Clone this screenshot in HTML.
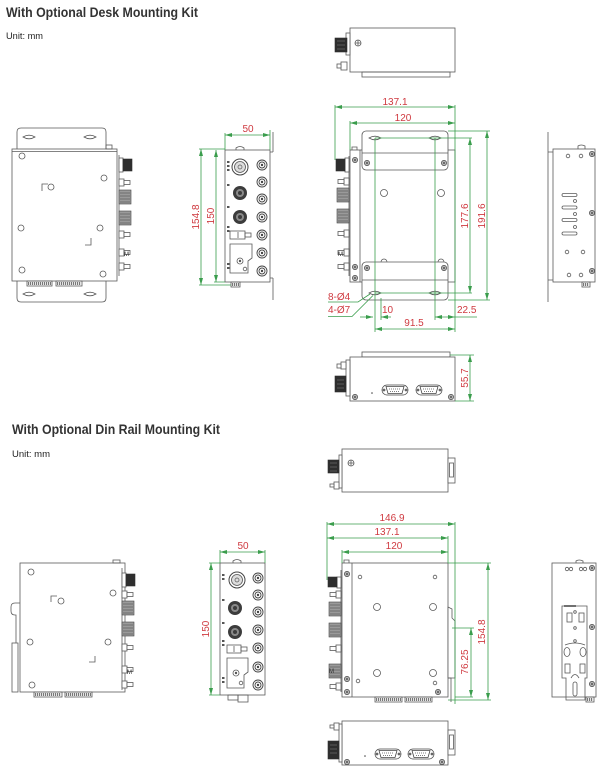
<!DOCTYPE html>
<html><head><meta charset="utf-8">
<style>
html,body{margin:0;padding:0;background:#fff;}
svg{display:block;}
.d{stroke:#5a5a5a;fill:none;stroke-width:0.8}
.w{stroke:#5a5a5a;fill:#fff;stroke-width:0.8}
.k{fill:#2e2e2e;stroke:#2e2e2e;stroke-width:0.6}
.h{fill:#9a9a9a;stroke:#444;stroke-width:0.6}
.s{fill:#b5b5b5;stroke:#444;stroke-width:0.7}
.g{stroke:#3a9d4c;stroke-width:0.8;fill:none}
.gm{stroke:#3a9d4c;stroke-width:0.8;fill:none;marker-start:url(#a);marker-end:url(#a)}
.t{fill:#cf3a40;font-size:10px;font-family:"Liberation Sans",Arial,sans-serif}
.st{stroke:#777;stroke-width:3;stroke-dasharray:1.2 0.8;fill:none}
</style></head><body>
<svg width="610" height="778" viewBox="0 0 610 778" xmlns="http://www.w3.org/2000/svg" font-family="Liberation Sans, Arial, sans-serif">
<defs>
<marker id="a" viewBox="0 0 7 4" refX="7" refY="2" markerWidth="7" markerHeight="4" orient="auto-start-reverse" markerUnits="userSpaceOnUse">
<path d="M0,0 L7,2 L0,4 z" fill="#3a9d4c"/>
</marker>
<path id="sl" d="M-6,0q6-3.6 12,0q-6,3.6-12,0z" fill="none" stroke="#5a5a5a" stroke-width="0.8"/>
<g id="rc"><circle r="5" fill="#fff" stroke="#444" stroke-width="0.9"/><circle r="3" fill="none" stroke="#444" stroke-width="0.9"/><circle r="1.2" fill="#444"/></g>
<g id="dk"><circle r="7" fill="#3c3c3c"/><circle r="4" fill="#8a8a8a"/><circle r="2" fill="#3c3c3c"/></g>
<g id="bg"><circle r="8" fill="#fff" stroke="#444" stroke-width="1"/><circle r="5.5" fill="#ddd" stroke="#555" stroke-width="0.8"/><circle r="2" fill="none" stroke="#555" stroke-width="0.7"/></g>
<g id="sc"><circle r="2.6" fill="#b5b5b5" stroke="#444" stroke-width="0.7"/><circle r="1" fill="#555"/></g>
<g id="db"><rect x="-13" y="-5" width="26" height="10" rx="5" fill="#fff" stroke="#444" stroke-width="0.7"/><path d="M-9,-3.5h18l-2,7h-14z" fill="#fff" stroke="#444" stroke-width="0.8"/><circle cx="-11" cy="0" r="1.4" fill="#666"/><circle cx="11" cy="0" r="1.4" fill="#666"/><path d="M-6,-1h12M-5,1.5h10" stroke="#555" stroke-width="0.8" stroke-dasharray="1 1"/></g>
<g id="c2"><rect x="0" y="0" width="5" height="7" class="w"/><rect x="5" y="1.5" width="6" height="4" class="w"/></g>
<g id="c3"><rect x="0" y="0" width="12" height="14" class="h"/><path d="M1,3h10M1,6h10M1,9h10M1,12h10" stroke="#444" stroke-width="0.6"/></g>
</defs>

<!-- ============ TOP SECTION ============ -->
<text x="6" y="17" font-size="14" font-weight="bold" fill="#333" textLength="192" lengthAdjust="spacingAndGlyphs">With Optional Desk Mounting Kit</text>
<text x="6" y="39" font-size="9" fill="#222" textLength="37" lengthAdjust="spacingAndGlyphs">Unit: mm</text>

<!-- A: left side view (desk) -->
<path class="d" d="M17,149V132q0-4 4-4h81q4,0 4,4v17M17,281v17q0,4 4,4h81q4,0 4-4v-17"/>
<use href="#sl" x="29" y="137"/><use href="#sl" x="90" y="137"/>
<use href="#sl" x="29" y="294"/><use href="#sl" x="90" y="294"/>
<rect class="w" x="12" y="149" width="105" height="132"/>
<line class="d" x1="12" y1="151.5" x2="117" y2="151.5"/>
<rect class="d" x="106" y="145" width="6" height="4"/>
<g class="d">
<circle cx="22" cy="156" r="3"/><circle cx="104" cy="178" r="3"/><circle cx="51" cy="187" r="3"/>
<circle cx="21" cy="228" r="3"/><circle cx="100" cy="228" r="3"/><circle cx="22" cy="270" r="3"/><circle cx="103" cy="274" r="3"/>
<path d="M42,191V184h6M85,245h6v-7"/>
<line x1="119" y1="155" x2="119" y2="276"/>
</g>
<rect class="w" x="119" y="158" width="4" height="14"/><rect class="k" x="123" y="159" width="9" height="12"/>
<use href="#c2" x="119" y="179"/>
<use href="#c3" x="119" y="190"/>
<use href="#c3" x="119" y="211"/>
<use href="#c2" x="119" y="231"/>
<use href="#c2" x="119" y="249"/><text x="124" y="256" font-size="6" fill="#333">M</text>
<use href="#c2" x="119" y="263"/>
<rect class="d" x="27" y="281" width="25" height="5"/><line class="st" x1="28" y1="283.5" x2="51" y2="283.5"/>
<rect class="d" x="56" y="281" width="26" height="5"/><line class="st" x1="57" y1="283.5" x2="81" y2="283.5"/>

<!-- B: front view (desk) -->
<path class="d" d="M273,132v20M273,278v22M270,152h3M270,278h3"/>
<rect class="w" x="225" y="150" width="45" height="132"/>
<path class="d" d="M236,150v-2q4-3 8,0v2"/>
<rect class="d" x="231" y="282" width="9" height="5"/><line class="st" x1="232" y1="284.5" x2="239" y2="284.5"/>
<use href="#bg" x="240" y="167"/>
<use href="#dk" x="240" y="193"/>
<use href="#dk" x="240" y="217"/>
<use href="#rc" x="262" y="165"/><use href="#rc" x="262" y="182"/><use href="#rc" x="262" y="199"/>
<use href="#rc" x="262" y="217"/><use href="#rc" x="262" y="235"/><use href="#rc" x="262" y="253"/><use href="#rc" x="262" y="271"/>
<g fill="#555"><rect x="227" y="161" width="2.5" height="2"/><rect x="227" y="165" width="2.5" height="2"/><rect x="227" y="169" width="2.5" height="2"/>
<rect x="227" y="184" width="2.5" height="2"/><rect x="227" y="206" width="2.5" height="2"/><rect x="227" y="226" width="2.5" height="2"/><rect x="227" y="230" width="2.5" height="2"/><rect x="227" y="263" width="2.5" height="2"/><rect x="227" y="267" width="2.5" height="2"/></g>
<rect class="d" x="230" y="231" width="15" height="8"/><rect class="d" x="245" y="233" width="6" height="4"/><line class="d" x1="238" y1="232" x2="238" y2="238"/>
<path class="d" d="M230,244h22v14l-4,3v12h-18z"/>
<circle class="d" cx="240" cy="261" r="3"/><circle cx="240" cy="261" r="1.2" fill="#555"/><circle class="d" cx="245" cy="269" r="1.8"/>
<line class="gm" x1="225" y1="135" x2="270" y2="135"/>
<path class="g" d="M225,133v17M270,130v20M199,149h26M199,285h32M214,282h11"/>
<text class="t" x="248" y="132" text-anchor="middle">50</text>
<line class="gm" x1="201" y1="149" x2="201" y2="285"/>
<line class="gm" x1="216" y1="150" x2="216" y2="282"/>
<text class="t" text-anchor="middle" transform="translate(199,217) rotate(-90)">154.8</text>
<text class="t" text-anchor="middle" transform="translate(214,216) rotate(-90)">150</text>

<!-- C: top view (desk) -->
<rect class="w" x="350" y="28" width="105" height="44"/>
<rect class="d" x="362" y="72" width="88" height="5"/>
<rect class="w" x="346" y="33" width="4" height="22"/>
<rect class="k" x="335" y="38" width="12" height="14"/>
<path d="M337,41h8M337,45h8M337,49h8" stroke="#888" stroke-width="0.6"/>
<rect class="w" x="341" y="62" width="6" height="8"/><rect class="w" x="337" y="64" width="4" height="4"/>
<circle class="d" cx="358" cy="43" r="3"/><path class="d" d="M355,43h6M358,40v6"/>

<!-- D: plan view (desk) -->
<rect class="w" x="350" y="150" width="105" height="132"/>
<line class="d" x1="360" y1="150" x2="360" y2="282"/>
<path class="d" d="M352,150v-3h5v3"/>
<rect class="w" x="362" y="131" width="86" height="39" rx="4"/>
<line class="d" x1="362" y1="153" x2="448" y2="153"/>
<rect class="w" x="362" y="262" width="86" height="38" rx="4"/>
<line class="d" x1="362" y1="280" x2="448" y2="280"/>
<use href="#sl" x="375" y="138"/><use href="#sl" x="435" y="138"/>
<use href="#sl" x="375" y="293"/><use href="#sl" x="435" y="293"/>
<use href="#sc" x="367" y="163"/><use href="#sc" x="444" y="163"/><use href="#sc" x="367" y="268"/><use href="#sc" x="444" y="268"/>
<use href="#sc" x="355" y="160"/><use href="#sc" x="355" y="267"/><use href="#sc" x="355" y="278"/>
<circle class="d" cx="384" cy="193" r="3.5"/><circle class="d" cx="441" cy="193" r="3.5"/>
<path class="d" d="M381,262a3,3 0 0 1 6,0M438,262a3,3 0 0 1 6,0"/>
<line class="d" x1="349" y1="156" x2="349" y2="276"/>
<rect class="w" x="345" y="158" width="4" height="14"/><rect class="k" x="336" y="159" width="9" height="12"/>
<use href="#c2" x="349" y="178" transform="translate(698,0) scale(-1,1)"/>
<use href="#c3" x="337" y="188"/>
<use href="#c3" x="337" y="209"/>
<use href="#c2" x="349" y="230" transform="translate(698,0) scale(-1,1)"/>
<use href="#c2" x="349" y="249" transform="translate(698,0) scale(-1,1)"/><text x="338" y="256" font-size="6" fill="#333">M</text>
<use href="#c2" x="349" y="263" transform="translate(698,0) scale(-1,1)"/>
<!-- dims D -->
<line class="gm" x1="335" y1="107" x2="455" y2="107"/>
<line class="gm" x1="350" y1="123" x2="455" y2="123"/>
<path class="g" d="M335,105v55M455,105v227M350,121v29M375,138h97M375,138v194M435,138v182M448,131h42M375,293h97M448,300h42"/>
<text class="t" x="395" y="105" text-anchor="middle">137.1</text>
<text class="t" x="403" y="121" text-anchor="middle">120</text>
<line class="gm" x1="470" y1="138" x2="470" y2="293"/>
<line class="gm" x1="487" y1="131" x2="487" y2="300"/>
<text class="t" text-anchor="middle" transform="translate(468,216) rotate(-90)">177.6</text>
<text class="t" text-anchor="middle" transform="translate(485,216) rotate(-90)">191.6</text>

<!-- E: callouts -->
<text class="t" x="328" y="300">8-Ø4</text>
<text class="t" x="328" y="313">4-Ø7</text>
<path class="g" d="M328,302h30l12,-8M328,316.5h24l21,-21"/>
<line class="g" x1="360" y1="317" x2="373" y2="317" marker-end="url(#a)"/>
<line class="g" x1="391" y1="317" x2="381" y2="317" marker-end="url(#a)"/>
<line class="g" x1="381" y1="298" x2="381" y2="320"/>
<text class="t" x="382" y="313">10</text>
<line class="gm" x1="435" y1="317" x2="455" y2="317"/>
<line class="g" x1="455" y1="317" x2="477" y2="317"/>
<text class="t" x="457" y="313">22.5</text>
<line class="gm" x1="375" y1="329" x2="455" y2="329"/>
<text class="t" x="414" y="326" text-anchor="middle">91.5</text>

<!-- F: bottom view (desk) -->
<rect class="d" x="362" y="352" width="88" height="5"/>
<rect class="w" x="350" y="357" width="105" height="44"/>
<rect class="w" x="346" y="360" width="4" height="36"/>
<rect class="w" x="341" y="362" width="5" height="7"/><rect class="w" x="337" y="364" width="4" height="4"/>
<rect class="k" x="335" y="376" width="11" height="16"/>
<path d="M337,380h7M337,384h7M337,388h7" stroke="#888" stroke-width="0.6"/>
<use href="#db" x="395" y="390"/><use href="#db" x="429" y="390"/>
<use href="#sc" x="355" y="397"/><use href="#sc" x="451" y="397"/>
<circle cx="372" cy="393" r="0.8" fill="#444"/>
<line class="gm" x1="470" y1="355" x2="470" y2="401"/>
<path class="g" d="M450,355h24M455,401h19"/>
<text class="t" text-anchor="middle" transform="translate(468,378) rotate(-90)">55.7</text>

<!-- G: right side view (desk) -->
<path class="d" d="M548,132v170M548,152h5M548,280h5"/>
<rect class="w" x="553" y="149" width="42" height="133"/>
<path class="d" d="M578,149v-3q3-2 7,0v3"/>
<g class="d">
<circle cx="568" cy="156" r="1.8"/><circle cx="581" cy="156" r="1.8"/>
<circle cx="567" cy="252" r="1.8"/><circle cx="583" cy="252" r="1.8"/>
<circle cx="569" cy="275" r="1.8"/><circle cx="581" cy="275" r="1.8"/>
<rect x="562" y="193.5" width="15" height="3" rx="1.5"/><rect x="562" y="206" width="15" height="3" rx="1.5"/>
<rect x="562" y="218.5" width="15" height="3" rx="1.5"/><rect x="562" y="232" width="15" height="3" rx="1.5"/>
<circle cx="575" cy="201" r="1.5"/><circle cx="575" cy="214" r="1.5"/><circle cx="575" cy="227" r="1.5"/>
</g>
<use href="#sc" x="592" y="154"/><use href="#sc" x="592" y="213"/><use href="#sc" x="592" y="271"/>
<rect class="d" x="582" y="282" width="8" height="5"/><line class="st" x1="583" y1="284.5" x2="589" y2="284.5"/>

<!-- ============ BOTTOM SECTION ============ -->
<text x="12" y="434" font-size="14" font-weight="bold" fill="#333" textLength="208" lengthAdjust="spacingAndGlyphs">With Optional Din Rail Mounting Kit</text>
<text x="12" y="457" font-size="9" fill="#222" textLength="38" lengthAdjust="spacingAndGlyphs">Unit: mm</text>

<!-- H: left side view (din) -->
<path class="d" d="M20,603h-5q-4,0-4,4v4q0,4 4,4h1v5M16,620v23"/>
<rect class="d" x="12" y="643" width="6" height="49"/>
<rect class="w" x="20" y="563" width="105" height="129"/>
<rect class="d" x="113" y="560" width="7" height="3"/>
<g class="d">
<circle cx="31" cy="572" r="3"/><circle cx="113" cy="593" r="3"/><circle cx="61" cy="601" r="3"/>
<circle cx="30" cy="642" r="3"/><circle cx="108" cy="642" r="3"/><circle cx="32" cy="685" r="3"/>
<path d="M51,602V596h6M89,662h6v-6"/>
<line x1="122" y1="568" x2="122" y2="690"/>
</g>
<rect class="w" x="122" y="573" width="4" height="14"/><rect class="k" x="126" y="574" width="9" height="12"/>
<use href="#c2" x="122" y="591"/>
<use href="#c3" x="122" y="601"/>
<use href="#c3" x="122" y="622"/>
<use href="#c2" x="122" y="644"/>
<use href="#c2" x="122" y="666"/><text x="127" y="674" font-size="6" fill="#333">M</text>
<use href="#c2" x="122" y="681"/>
<rect class="d" x="34" y="692" width="28" height="5"/><line class="st" x1="35" y1="694.5" x2="61" y2="694.5"/>
<rect class="d" x="65" y="692" width="27" height="5"/><line class="st" x1="66" y1="694.5" x2="91" y2="694.5"/>

<!-- I: front view (din) -->
<rect class="w" x="220" y="563" width="45" height="132"/>
<path class="d" d="M233,563v-2q4-3 8,0v2"/>
<rect class="d" x="228" y="695" width="10" height="5"/><rect class="d" x="238" y="695" width="10" height="7"/>
<use href="#bg" x="237" y="580"/>
<use href="#dk" x="235" y="608"/>
<use href="#dk" x="235" y="632"/>
<use href="#rc" x="258" y="578"/><use href="#rc" x="258" y="595"/><use href="#rc" x="258" y="612"/>
<use href="#rc" x="258" y="630"/><use href="#rc" x="258" y="648"/><use href="#rc" x="258" y="667"/><use href="#rc" x="258" y="685"/>
<g fill="#555"><rect x="222" y="574" width="2.5" height="2"/><rect x="222" y="578" width="2.5" height="2"/>
<rect x="222" y="599" width="2.5" height="2"/><rect x="222" y="622" width="2.5" height="2"/><rect x="222" y="640" width="2.5" height="2"/><rect x="222" y="644" width="2.5" height="2"/><rect x="222" y="677" width="2.5" height="2"/><rect x="222" y="681" width="2.5" height="2"/></g>
<rect class="d" x="227" y="645" width="14" height="8"/><rect class="d" x="241" y="647" width="6" height="4"/><line class="d" x1="234" y1="646" x2="234" y2="652"/>
<path class="d" d="M227,658h21v14l-4,3v13h-17z"/>
<circle class="d" cx="236" cy="673" r="3"/><circle cx="236" cy="673" r="1.2" fill="#555"/><circle class="d" cx="241" cy="683" r="1.8"/>
<line class="gm" x1="220" y1="552" x2="265" y2="552"/>
<path class="g" d="M220,550v13M265,550v13M209,563h11M209,695h11"/>
<text class="t" x="243" y="549" text-anchor="middle">50</text>
<line class="gm" x1="211" y1="563" x2="211" y2="695"/>
<text class="t" text-anchor="middle" transform="translate(209,629) rotate(-90)">150</text>

<!-- J: top view (din) -->
<rect class="w" x="342" y="449" width="106" height="43"/>
<rect class="w" x="448" y="458" width="7" height="25"/><rect class="d" x="449.5" y="463" width="4" height="14"/>
<rect class="w" x="339" y="455" width="3" height="33"/>
<rect class="k" x="328" y="460" width="11" height="13"/>
<path d="M330,463h7M330,467h7M330,471h7" stroke="#888" stroke-width="0.6"/>
<rect class="w" x="334" y="482" width="5" height="7"/><rect class="w" x="330" y="484" width="4" height="3"/>
<circle class="d" cx="351" cy="463" r="3"/><path class="d" d="M348,463h6M351,460v6"/>

<!-- K/L: plan view (din) -->
<rect class="w" x="342" y="563" width="106" height="134"/>
<line class="d" x1="352" y1="563" x2="352" y2="697"/>
<path class="d" d="M344,563v-3h5v3"/>
<path class="w" d="M448,607l4,2v9l3,3v57h-7z"/>
<path class="d" d="M448,678h3v24"/>
<use href="#sc" x="347" y="574"/><use href="#sc" x="347" y="679"/><use href="#sc" x="347" y="692"/><use href="#sc" x="438" y="692"/>
<g class="d">
<circle cx="360" cy="577" r="1.8"/><circle cx="435" cy="577" r="1.8"/>
<circle cx="377" cy="607" r="3.5"/><circle cx="433" cy="607" r="3.5"/>
<circle cx="377" cy="673" r="3.5"/><circle cx="433" cy="673" r="3.5"/>
<circle cx="358" cy="681" r="1.8"/><circle cx="435" cy="683" r="1.8"/>
<line x1="341" y1="570" x2="341" y2="692"/>
</g>
<rect class="w" x="337" y="577" width="4" height="11"/><rect class="k" x="328" y="577" width="9" height="10"/>
<use href="#c2" x="341" y="591" transform="translate(682,0) scale(-1,1)"/>
<use href="#c3" x="329" y="602"/>
<use href="#c3" x="329" y="623"/>
<use href="#c2" x="341" y="645" transform="translate(682,0) scale(-1,1)"/>
<use href="#c3" x="329" y="664"/><text x="329" y="673" font-size="6" fill="#333">M</text>
<use href="#c2" x="341" y="683" transform="translate(682,0) scale(-1,1)"/>
<rect class="d" x="375" y="697" width="27" height="5"/><line class="st" x1="376" y1="699.5" x2="401" y2="699.5"/>
<rect class="d" x="405" y="697" width="27" height="5"/><line class="st" x1="406" y1="699.5" x2="431" y2="699.5"/>
<!-- dims K -->
<line class="gm" x1="327" y1="524" x2="455" y2="524"/>
<line class="gm" x1="327" y1="538" x2="448" y2="538"/>
<line class="gm" x1="342" y1="552" x2="448" y2="552"/>
<path class="g" d="M327,522v58M342,550v13M448,536v27M455,522v182M448,563h43M452,628h22M455,697h18M448,700h43"/>
<text class="t" x="392" y="521" text-anchor="middle">146.9</text>
<text class="t" x="387" y="535" text-anchor="middle">137.1</text>
<text class="t" x="394" y="549" text-anchor="middle">120</text>
<line class="gm" x1="488" y1="563" x2="488" y2="700"/>
<line class="gm" x1="471" y1="628" x2="471" y2="697"/>
<text class="t" text-anchor="middle" transform="translate(485,632) rotate(-90)">154.8</text>
<text class="t" text-anchor="middle" transform="translate(468,662) rotate(-90)">76.25</text>

<!-- M: bottom view (din) -->
<rect class="w" x="342" y="721" width="106" height="44"/>
<rect class="w" x="448" y="730" width="7" height="25"/><rect class="d" x="449.5" y="735" width="4" height="14"/>
<rect class="w" x="339" y="724" width="3" height="38"/>
<rect class="w" x="334" y="723" width="5" height="7"/><rect class="w" x="330" y="725" width="4" height="3"/>
<rect class="k" x="328" y="741" width="11" height="18"/>
<path d="M330,745h7M330,749h7M330,753h7" stroke="#888" stroke-width="0.6"/>
<use href="#db" x="388" y="754"/><use href="#db" x="421" y="754"/>
<use href="#sc" x="347" y="762"/><use href="#sc" x="442" y="762"/>
<circle cx="365" cy="756" r="0.8" fill="#444"/>

<!-- N: right side view (din) -->
<rect class="w" x="552" y="563" width="44" height="134"/>
<path class="d" d="M576,563v-2q3-2 7,0v2"/>
<g class="d">
<circle cx="567" cy="569" r="1.7"/><circle cx="571" cy="569" r="1.7"/><circle cx="581" cy="569" r="1.7"/><circle cx="585" cy="569" r="1.7"/>
</g>
<use href="#sc" x="592" y="568"/><use href="#sc" x="592" y="627"/><use href="#sc" x="592" y="684"/>
<path class="w" d="M562,606h25v72h-2v22h-19v-22h-4z"/>
<line x1="564" y1="606" x2="576" y2="606" stroke="#333" stroke-width="1.4"/>
<g class="d">
<rect x="567" y="613" width="5" height="9"/><rect x="579" y="613" width="5" height="9"/>
<circle cx="575" cy="612" r="1.3"/><circle cx="575" cy="628" r="1.3"/><circle cx="575" cy="641" r="1.3"/>
<path d="M565,645q10-4 20,0"/>
<ellipse cx="567" cy="652" rx="3" ry="4.5"/><ellipse cx="583" cy="652" rx="3" ry="4.5"/>
<rect x="565" y="664" width="5" height="9"/><rect x="580" y="664" width="5" height="9"/>
<path d="M571,678q4-7 8,0"/>
<rect x="573" y="682" width="4" height="14" rx="2"/>
<line x1="566" y1="697" x2="585" y2="697"/>
</g>
<rect class="d" x="586" y="697" width="8" height="5"/><line class="st" x1="587" y1="699.5" x2="593" y2="699.5"/>
</svg>
</body></html>
